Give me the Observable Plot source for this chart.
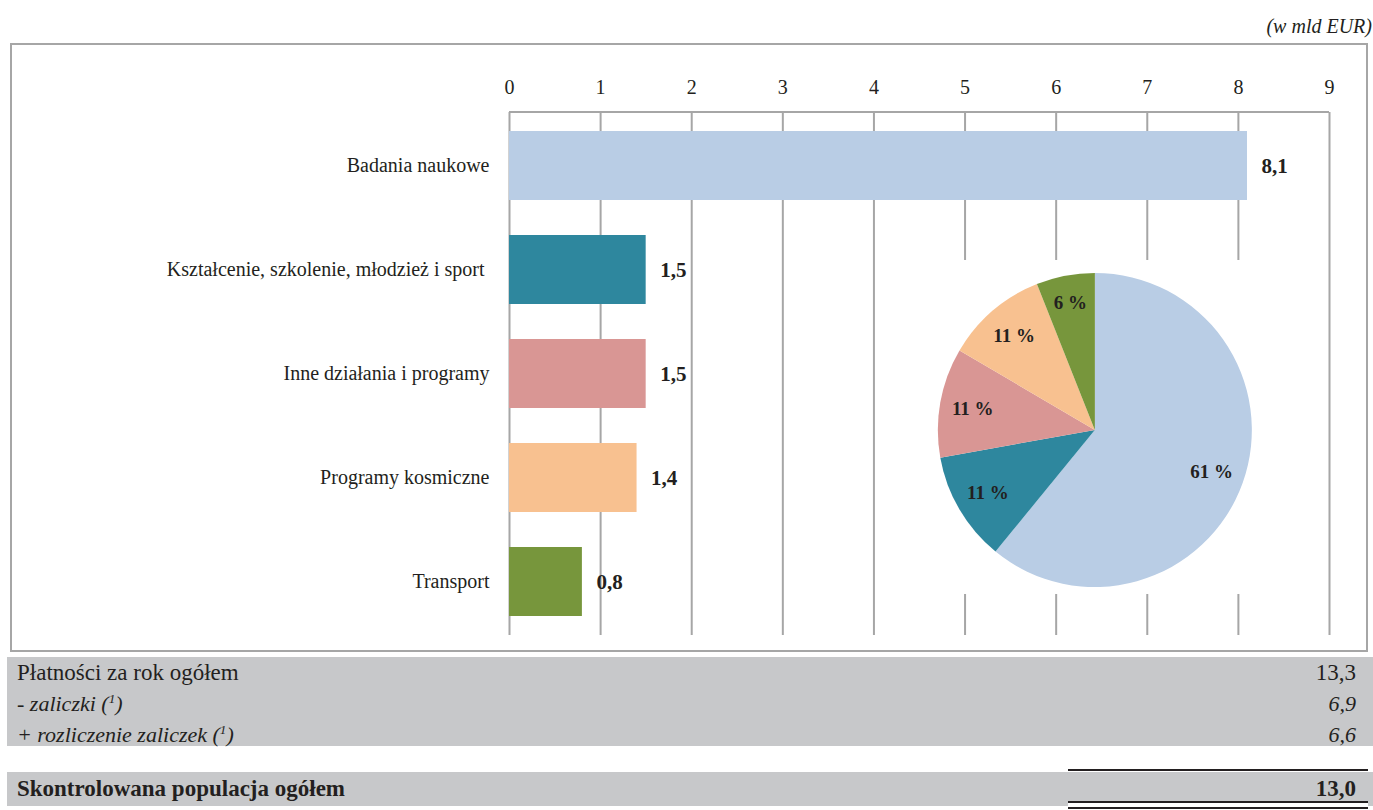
<!DOCTYPE html>
<html><head><meta charset="utf-8">
<script src="https://cdn.jsdelivr.net/npm/d3@7"></script>
<script src="https://cdn.jsdelivr.net/npm/@observablehq/plot@0.6"></script>
<style>
body{margin:0;background:#fff;font-family:"Liberation Serif",serif;color:#231f20;}
#page{position:relative;width:1373px;height:810px;overflow:hidden;}
#unit{position:absolute;top:14px;right:1px;font-style:italic;font-size:20px;line-height:24px;}
#frame{position:absolute;left:10px;top:43px;width:1358px;height:609px;box-sizing:border-box;border:2px solid #a6a6a6;}
#chart{position:absolute;left:0;top:0;}
#chart text{white-space:pre;}
.band{position:absolute;left:7px;width:1366px;background:#c7c8ca;}
.row{position:absolute;left:17px;width:1339px;height:31px;font-size:23px;line-height:31px;}
.row .v{position:absolute;right:0;top:0;}
.sup{font-size:0.6em;vertical-align:0.6em;line-height:0;}
.rule{position:absolute;left:1068px;width:300px;height:2px;background:#231f20;}
</style>
</head><body>
<div id="page">
  <div id="frame"></div>
  <div id="unit"></div>
</div>
<script>
// ---- data ----
const categories = ["Badania naukowe", "Kształcenie, szkolenie, młodzież i sport ", "Inne działania i programy", "Programy kosmiczne", "Transport"];
const amounts = [8.1, 1.5, 1.5, 1.4, 0.8];
const colors = ["#b9cde5", "#2e879e", "#d99694", "#f8c190", "#77963c"];
const xTicks = [0, 1, 2, 3, 4, 5, 6, 7, 8, 9];
const unitLabel = "(w mld EUR)";
const tableLabels = ["Płatności za rok ogółem", "- zaliczki (<span class=\"sup\">1</span>)", "+ rozliczenie zaliczek (<span class=\"sup\">1</span>)"];
const tableValues = [13.3, 6.9, 6.6];
const tableItalic = [false, true, true];
const totalLabel = "Skontrolowana populacja ogółem";
const totalValue = 13.0;

const fmt = v => v.toFixed(1).replace(".", ",");
const data = categories.map((c, i) => ({category: c, value: amounts[i], color: colors[i]}));
const total = d3.sum(amounts);

function topLine(index, {x}, v, dims) {
  return d3.create("svg:line")
    .attr("x1", x(d3.min(xTicks))).attr("x2", x(d3.max(xTicks)))
    .attr("y1", dims.marginTop).attr("y2", dims.marginTop)
    .attr("stroke", "#a6a6a6").attr("stroke-width", 2).node();
}

function pieMark(index, {x}, v, dims) {
  const cx = x(6.43);
  const cy = dims.marginTop + 0.608 * (dims.height - dims.marginTop - dims.marginBottom);
  const r = 157;
  const g = d3.create("svg:g");
  g.append("rect").attr("x", cx - r - 22).attr("y", cy - r - 13)
    .attr("width", 2 * r + 44).attr("height", 2 * r + 20).attr("fill", "white");
  const arcs = d3.pie().sort(null)(amounts);
  const arc = d3.arc().innerRadius(0).outerRadius(r);
  const gg = g.append("g").attr("transform", `translate(${cx},${cy})`);
  gg.selectAll("path").data(arcs).join("path").attr("d", arc).attr("fill", (d, i) => colors[i]);
  gg.selectAll("text").data(arcs).join("text")
    .attr("transform", d => {
      const share = d.value / total;
      const lr = r * (share < 0.08 ? 0.83 : 0.79);
      return `translate(${d3.arc().innerRadius(lr).outerRadius(lr).centroid(d)})`;
    })
    .attr("text-anchor", "middle").attr("dy", "0.35em")
    .attr("font-weight", "bold").attr("font-size", 19).attr("fill", "#231f20")
    .text(d => Math.round(d.value / total * 100) + " %");
  return g.node();
}

const chart = Plot.plot({
  width: 1373, height: 652,
  marginLeft: 509, marginRight: 44, marginTop: 112, marginBottom: 17,
  style: {fontFamily: '"Liberation Serif", serif', fontSize: "20px", color: "#231f20", background: "transparent", overflow: "visible"},
  x: {domain: [0, 9], label: null},
  y: {domain: categories, paddingInner: 0.34, paddingOuter: 0.17, label: null},
  color: {type: "identity"},
  marks: [
    Plot.ruleX(xTicks, {stroke: "#a6a6a6", strokeWidth: 2, strokeOpacity: 1}),
    topLine,
    Plot.barX(data, {x: "value", y: "category", fill: "color"}),
    pieMark,
    Plot.text(data, {x: "value", y: "category", text: d => fmt(d.value), dx: 14, textAnchor: "start", fontWeight: "bold", fontSize: 21, fill: "#231f20", ariaLabel: "vlabels"}),
    Plot.axisX({anchor: "top", ticks: xTicks, tickSize: 0, tickPadding: 19, fontSize: 20, label: null, tickFormat: d => String(d)}),
    Plot.axisY({tickSize: 0, tickPadding: 20, fontSize: 20, label: null})
  ]
});
chart.id = "chart";
const page = document.getElementById("page");
page.appendChild(chart);
document.getElementById("unit").textContent = unitLabel;

// white backgrounds behind value labels
d3.select(chart).selectAll('g[aria-label="vlabels"] text').each(function() {
  const b = this.getBBox();
  const rect = document.createElementNS("http://www.w3.org/2000/svg", "rect");
  rect.setAttribute("x", b.x - 3); rect.setAttribute("y", b.y - 7);
  rect.setAttribute("width", b.width + 6); rect.setAttribute("height", b.height + 14);
  rect.setAttribute("fill", "white");
  const t = this.getAttribute("transform"); if (t) rect.setAttribute("transform", t);
  this.parentNode.insertBefore(rect, this);
});

// table
const band1 = document.createElement("div");
band1.className = "band"; band1.style.top = "657px"; band1.style.height = "89px";
page.appendChild(band1);
tableLabels.forEach((lab, i) => {
  const row = document.createElement("div");
  row.className = "row"; row.style.top = (657 + i * 31) + "px";
  if (tableItalic[i]) { row.style.fontStyle = "italic"; row.style.fontSize = "22px"; }
  row.innerHTML = `<span>${lab}</span><span class="v">${fmt(tableValues[i])}</span>`;
  page.appendChild(row);
});
const band2 = document.createElement("div");
band2.className = "band"; band2.style.top = "772px"; band2.style.height = "34px";
page.appendChild(band2);
const trow = document.createElement("div");
trow.className = "row"; trow.style.top = "773px"; trow.style.fontWeight = "bold";
trow.innerHTML = `<span>${totalLabel}</span><span class="v">${fmt(totalValue)}</span>`;
page.appendChild(trow);
[769, 801].forEach(t => { const r = document.createElement("div"); r.className = "rule"; r.style.top = t + "px"; page.appendChild(r); });
const gap = document.createElement("div");
gap.style.cssText = "position:absolute;left:1068px;width:300px;top:803px;height:4px;background:#fff;";
page.appendChild(gap);
const r3 = document.createElement("div"); r3.className = "rule"; r3.style.top = "807px"; page.appendChild(r3);
</script>
</body></html>
